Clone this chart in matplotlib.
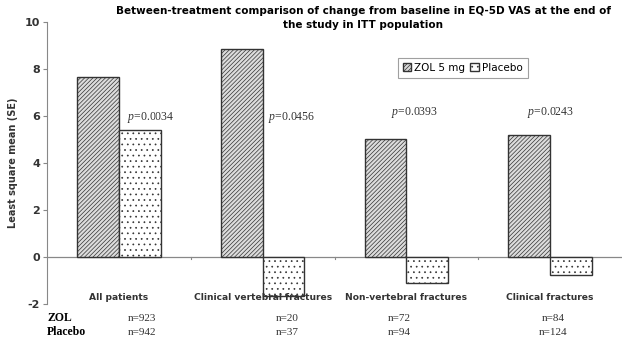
import matplotlib.pyplot as plt
import numpy as np
from matplotlib.transforms import blended_transform_factory

# data
categories = ['All patients', 'Clinical vertebral fractures',
              'Non-vertebral fractures', 'Clinical fractures']
zol = [7.66, 8.85, 5.03, 5.18]
placebo = [5.40, -1.66, -1.10, -0.78]
p_values = ['0.0034', '0.0456', '0.0393', '0.0243']
n_zol = [923, 20, 72, 84]
n_placebo = [942, 37, 94, 124]

# label placement tweaks (offsets from group centre)
p_dx = [0.055, 0.04, -0.11, -0.16]
p_y = [5.95, 5.95, 6.13, 6.13]
n_dx = [0.16, 0.17, -0.05, 0.02]

plt.rcParams['hatch.linewidth'] = 0.5
plt.rcParams['hatch.color'] = '#555555'
plt.rcParams['axes.unicode_minus'] = False
plt.rcParams['mathtext.fontset'] = 'custom'
plt.rcParams['mathtext.it'] = 'Liberation Serif:italic'
plt.rcParams['mathtext.rm'] = 'Liberation Serif'

fig = plt.figure(figsize=(6.22, 3.38), dpi=100)
ax = fig.add_axes([0.0756, 0.1006, 0.9244, 0.8343])

x = np.arange(len(categories))
w = 0.29

b1 = ax.bar(x - w / 2, zol, w, facecolor='#dcdcdc', edgecolor='#333333',
            hatch='////////', linewidth=1.0, label='ZOL 5 mg')
b2 = ax.bar(x + w / 2, placebo, w, facecolor='white', edgecolor='#333333',
            hatch='...', linewidth=1.0, label='Placebo')

ax.axhline(0, color='#888888', linewidth=0.9, zorder=0)
ax.set_xlim(-0.5, 3.5)
ax.set_ylim(-2, 10)
ax.set_yticks(range(-2, 11, 2))
for s in ['top', 'right', 'bottom']:
    ax.spines[s].set_visible(False)
ax.spines['left'].set_color('#888888')
ax.set_xticks([])
ax.tick_params(axis='y', length=3, color='#888888', labelsize=8, pad=2)
for t in ax.get_yticklabels():
    t.set_fontweight('bold')
    t.set_color('#333333')

# small ticks on zero line at category boundaries
for xb in [0.5, 1.5, 2.5]:
    ax.plot([xb, xb], [-0.08, 0.0], color='#888888', linewidth=0.8)

ax.set_ylabel('Least square mean (SE)', fontsize=7, fontweight='bold',
              color='#333333', labelpad=5)

for i, cat in enumerate(categories):
    ax.text(i, -1.74, cat, ha='center', va='center', fontsize=6.6,
            fontweight='bold', color='#333333')
    ax.text(i + p_dx[i], p_y[i], r'$p$=' + p_values[i], ha='left',
            va='center', fontsize=8.5, family='Liberation Serif', color='#333333')

tr = blended_transform_factory(ax.transData, ax.transAxes)
ax.text(-0.5, -0.05, 'ZOL', transform=tr, ha='left', va='center',
        fontsize=8.5, fontweight='bold', family='Liberation Serif')
ax.text(-0.5, -0.1, 'Placebo', transform=tr, ha='left', va='center',
        fontsize=8.5, fontweight='bold', family='Liberation Serif')
for i in range(len(categories)):
    ax.text(i + n_dx[i], -0.05, 'n=%d' % n_zol[i], transform=tr, ha='center',
            va='center', fontsize=8, family='Liberation Serif', color='#333333')
    ax.text(i + n_dx[i], -0.1, 'n=%d' % n_placebo[i], transform=tr, ha='center',
            va='center', fontsize=8, family='Liberation Serif', color='#333333')

fig.text(0.584, 0.946, 'Between-treatment comparison of change from baseline in EQ-5D VAS at the end of\nthe study in ITT population',
         ha='center', va='center', fontsize=7.5, fontweight='bold',
         linespacing=1.45)

leg = fig.legend(handles=[b1, b2], loc='center', bbox_to_anchor=(0.744, 0.799),
                 ncol=2, fontsize=7.5, frameon=True, fancybox=False,
                 handlelength=0.8, handleheight=0.8, handletextpad=0.3,
                 columnspacing=0.5, borderpad=0.5)
leg.get_frame().set_edgecolor('#888888')
leg.get_frame().set_linewidth(0.8)

fig.savefig('out.png', dpi=100)
